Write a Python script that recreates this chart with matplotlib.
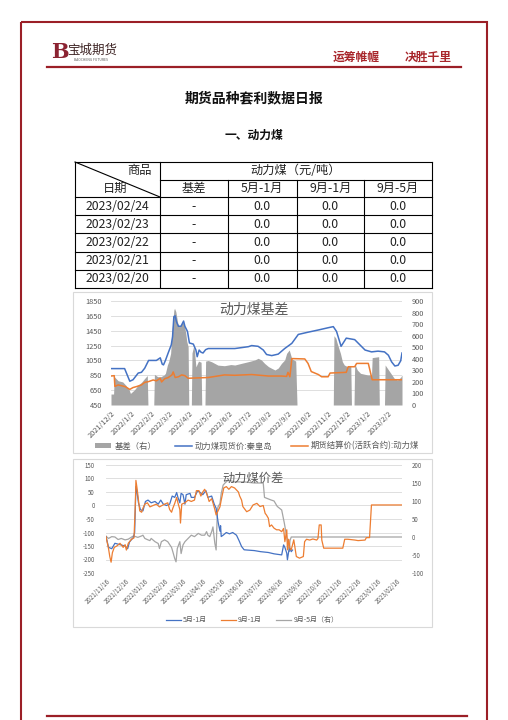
import matplotlib
matplotlib.use("Agg")
import matplotlib.pyplot as plt
from matplotlib.patches import Rectangle, Patch
from matplotlib.lines import Line2D
import pandas as pd

plt.rcParams['font.family'] = ['Noto Sans CJK SC', 'DejaVu Sans']
plt.rcParams['axes.unicode_minus'] = False

W, H = 508, 720

# ---------------- 表格数据 ----------------
tbl_dates = ['2023/02/24', '2023/02/23', '2023/02/22', '2023/02/21', '2023/02/20']
tbl_basis = ['-', '-', '-', '-', '-']
tbl_51 = [0.0, 0.0, 0.0, 0.0, 0.0]
tbl_91 = [0.0, 0.0, 0.0, 0.0, 0.0]
tbl_95 = [0.0, 0.0, 0.0, 0.0, 0.0]
tbl_cols = ['基差', '5月-1月', '9月-1月', '9月-5月']

# ---------------- 图1 动力煤基差 ----------------
spot_dates = ['2021-12-02', '2021-12-23', '2021-12-31', '2022-01-05', '2022-01-13', '2022-01-18',
              '2022-01-23', '2022-01-29', '2022-02-10', '2022-02-16', '2022-02-19', '2022-02-21',
              '2022-02-24', '2022-02-28', '2022-03-05', '2022-03-07', '2022-03-09', '2022-03-11',
              '2022-03-13', '2022-03-16', '2022-03-20', '2022-03-24', '2022-03-26', '2022-03-30',
              '2022-04-02', '2022-04-08', '2022-04-12', '2022-04-14', '2022-04-17', '2022-04-20',
              '2022-04-23', '2022-04-27', '2022-05-01', '2022-06-11', '2022-07-02', '2022-07-07',
              '2022-07-17', '2022-07-25', '2022-07-30', '2022-08-07', '2022-08-17', '2022-08-27',
              '2022-09-07', '2022-09-17', '2022-10-02', '2022-10-18', '2022-11-02', '2022-11-10',
              '2022-11-15', '2022-11-22', '2022-11-30', '2022-12-13', '2022-12-21', '2022-12-29',
              '2023-01-08', '2023-01-18', '2023-01-28', '2023-02-03', '2023-02-08', '2023-02-13',
              '2023-02-18', '2023-02-22', '2023-02-24']
spot = [940, 940, 770, 790, 880, 890,
        945, 1050, 1050, 1085, 1000, 990,
        1050, 1145, 1260, 1370, 1640, 1650,
        1570, 1510, 1510, 1580, 1510, 1440,
        1285, 1270, 1190, 1100, 1190, 1160,
        1150, 1195, 1210, 1210, 1235, 1250,
        1240, 1190, 1130, 1115, 1135, 1210,
        1280, 1400, 1430, 1460, 1490, 1505,
        1440, 1240, 1350, 1330, 1260, 1190,
        1165, 1175, 1165, 1120, 1030, 975,
        985, 1045, 1150]

fut_dates = ['2021-12-02', '2021-12-07', '2021-12-08', '2021-12-13', '2021-12-18', '2021-12-24',
             '2021-12-31', '2022-01-05', '2022-01-10', '2022-01-18', '2022-01-23', '2022-01-29',
             '2022-02-05', '2022-02-10', '2022-02-16', '2022-02-18', '2022-02-23', '2022-02-28',
             '2022-03-06', '2022-03-08', '2022-03-11', '2022-03-16', '2022-03-21', '2022-03-26',
             '2022-03-31', '2022-05-01', '2022-05-26', '2022-06-11', '2022-07-07', '2022-08-02',
             '2022-08-22', '2022-08-30', '2022-09-01', '2022-09-04', '2022-09-07', '2022-09-27',
             '2022-10-02', '2022-10-07', '2022-10-18', '2022-10-23', '2022-11-02', '2022-11-05',
             '2022-11-30', '2022-12-03', '2022-12-13', '2022-12-16', '2023-01-03', '2023-01-06',
             '2023-01-09', '2023-02-24']
fut = [840, 845, 700, 720, 710, 697,
       660, 685, 697, 720, 755, 765,
       787, 775, 810, 760, 805, 818,
       855, 895, 820, 830, 855, 845,
       810, 820, 855, 850, 860, 840,
       840, 835, 890, 830, 1075, 1070,
       1010, 900, 860, 830, 830, 880,
       890, 965, 965, 1010, 1010, 900,
       790, 790]

basis_dates = ['2021-12-02', '2021-12-06', '2021-12-07', '2021-12-13', '2021-12-20', '2021-12-25',
               '2021-12-30', '2022-01-01', '2022-01-07', '2022-01-13', '2022-01-18', '2022-01-23',
               '2022-01-27', '2022-01-28', '2022-02-06', '2022-02-07', '2022-02-12', '2022-02-17',
               '2022-02-22', '2022-02-24', '2022-02-27', '2022-03-01', '2022-03-04', '2022-03-06',
               '2022-03-09', '2022-03-10', '2022-03-12', '2022-03-15', '2022-03-17', '2022-03-19',
               '2022-03-22', '2022-03-25', '2022-03-27', '2022-03-29', '2022-03-31', '2022-04-01',
               '2022-04-05', '2022-04-06', '2022-04-09', '2022-04-12', '2022-04-16', '2022-04-20',
               '2022-04-21', '2022-04-26', '2022-04-27', '2022-05-01', '2022-05-06', '2022-05-16',
               '2022-05-26', '2022-06-05', '2022-06-11', '2022-06-21', '2022-07-02', '2022-07-12',
               '2022-07-17', '2022-07-22', '2022-07-27', '2022-08-02', '2022-08-07', '2022-08-12',
               '2022-08-17', '2022-08-22', '2022-08-27', '2022-08-30', '2022-09-03', '2022-09-07',
               '2022-09-13', '2022-09-15', '2022-11-10', '2022-11-11', '2022-11-14', '2022-11-16',
               '2022-11-21', '2022-11-24', '2022-11-27', '2022-12-02', '2022-12-07', '2022-12-08',
               '2022-12-12', '2022-12-13', '2022-12-17', '2022-12-22', '2023-01-02', '2023-01-08',
               '2023-01-09', '2023-01-19', '2023-01-20', '2023-01-28', '2023-01-29', '2023-02-05',
               '2023-02-12', '2023-02-17', '2023-02-22', '2023-02-24']
basis = [95, 95, 245, 210, 200, 170,
         130, 100, 130, 173, 196, 230,
         255, 0, 0, 265, 245, 245,
         260, 275, 346, 375, 447, 635,
         822, 837, 808, 707, 678, 680,
         721, 692, 635, 548, 505, 0,
         0, 450, 520, 330, 380, 370,
         0, 0, 380, 385, 375, 345,
         340, 350, 346, 360, 375, 390,
         404, 390, 360, 332, 317, 303,
         320, 360, 390, 447, 476, 400,
         380, 0, 0, 600, 577, 534,
         447, 375, 346, 332, 340, 0,
         0, 360, 303, 274, 260, 260,
         410, 418, 0, 0, 346, 288,
         231, 216, 240, 260]

c1_ticks = ['2021-12-02', '2022-01-02', '2022-02-02', '2022-03-02', '2022-04-02', '2022-05-02',
            '2022-06-02', '2022-07-02', '2022-08-02', '2022-09-02', '2022-10-02', '2022-11-02',
            '2022-12-02', '2023-01-02', '2023-02-02']
c1_ticklabels = ['2021/12/2', '2022/1/2', '2022/2/2', '2022/3/2', '2022/4/2', '2022/5/2',
                 '2022/6/2', '2022/7/2', '2022/8/2', '2022/9/2', '2022/10/2', '2022/11/2',
                 '2022/12/2', '2023/1/2', '2023/2/2']
c1_left = [450, 650, 850, 1050, 1250, 1450, 1650, 1850]
c1_right = [0, 100, 200, 300, 400, 500, 600, 700, 800, 900]

# ---------------- 图2 动力煤价差 ----------------
s51_dates = ['2021-11-16', '2021-11-20', '2021-11-25', '2021-11-30', '2021-12-08', '2021-12-16',
             '2021-12-20', '2021-12-23', '2021-12-29', '2021-12-31', '2022-01-02', '2022-01-04',
             '2022-01-06', '2022-01-09', '2022-01-13', '2022-01-17', '2022-01-21', '2022-01-26',
             '2022-02-01', '2022-02-06', '2022-02-10', '2022-02-14', '2022-02-19', '2022-02-24',
             '2022-02-28', '2022-03-04', '2022-03-07', '2022-03-09', '2022-03-12', '2022-03-14',
             '2022-03-17', '2022-03-20', '2022-03-22', '2022-03-28', '2022-03-30', '2022-04-04',
             '2022-04-09', '2022-04-12', '2022-04-17', '2022-04-22', '2022-04-25', '2022-05-01',
             '2022-05-05', '2022-05-08', '2022-05-11', '2022-05-14', '2022-05-15', '2022-05-16',
             '2022-05-19', '2022-05-24', '2022-05-29', '2022-06-03', '2022-06-09', '2022-06-13',
             '2022-06-17', '2022-06-21', '2022-06-26', '2022-07-07', '2022-07-17', '2022-07-29',
             '2022-08-07', '2022-08-19', '2022-08-22', '2022-08-24', '2022-08-27', '2022-08-28',
             '2022-08-30', '2022-09-01', '2022-09-03', '2022-09-05']
s51 = [-115, -155, -160, -140, -145, -150,
       -160, -135, -118, -100, 70, 45,
       10, -15, -20, 15, 20, 10,
       15, 5, 20, 5, 0, 5,
       35, 30, 48, 30, 10, 45,
       40, 5, 40, 45, 30, 30,
       55, 50, 40, 55, 30, 35,
       5, -10, -60, -95, -75, -115,
       -110, -100, -105, -100, -110, -130,
       -152, -164, -165, -167, -171, -174,
       -179, -183, -146, -155, -177, -201,
       -170, -158, -171, -165]

s91_dates = ['2021-11-16', '2021-11-20', '2021-11-22', '2021-11-24', '2021-11-26', '2021-11-29',
             '2021-12-03', '2021-12-08', '2021-12-13', '2021-12-16', '2021-12-18', '2021-12-21',
             '2021-12-26', '2021-12-30', '2022-01-01', '2022-01-02', '2022-01-04', '2022-01-06',
             '2022-01-08', '2022-01-11', '2022-01-13', '2022-01-16', '2022-01-20', '2022-01-24',
             '2022-01-29', '2022-02-03', '2022-02-08', '2022-02-12', '2022-02-16', '2022-02-21',
             '2022-02-24', '2022-02-27', '2022-03-01', '2022-03-04', '2022-03-07', '2022-03-09',
             '2022-03-12', '2022-03-13', '2022-03-15', '2022-03-20', '2022-03-25', '2022-03-30',
             '2022-04-04', '2022-04-07', '2022-04-11', '2022-04-14', '2022-04-17', '2022-04-20',
             '2022-04-24', '2022-04-27', '2022-05-01', '2022-05-03', '2022-05-06', '2022-05-08',
             '2022-05-11', '2022-05-14', '2022-05-16', '2022-05-20', '2022-05-24', '2022-05-28',
             '2022-06-01', '2022-06-06', '2022-06-12', '2022-06-14', '2022-06-17', '2022-06-19',
             '2022-06-25', '2022-06-30', '2022-07-05', '2022-07-11', '2022-07-16', '2022-07-21',
             '2022-07-24', '2022-07-26', '2022-07-29', '2022-07-31', '2022-08-03', '2022-08-07',
             '2022-08-11', '2022-08-15', '2022-08-19', '2022-08-22', '2022-08-24', '2022-08-27',
             '2022-08-28', '2022-08-30', '2022-09-01', '2022-09-03', '2022-09-07', '2022-09-11',
             '2022-09-16', '2022-09-22', '2022-09-24', '2022-09-27', '2022-10-02', '2022-10-07',
             '2022-10-13', '2022-10-15', '2022-10-17', '2022-10-20', '2022-10-21', '2022-10-24',
             '2022-11-05', '2022-11-23', '2022-11-26', '2022-12-01', '2022-12-12', '2022-12-17',
             '2022-12-28', '2022-12-30', '2023-01-04', '2023-01-07', '2023-02-24']
s91 = [-115, -160, -190, -210, -175, -155,
       -150, -140, -155, -145, -165, -140,
       -125, -120, 0, 93, 60, 20,
       -20, -25, -10, 5, 10, -5,
       0, 5, -5, 0, 5, 10,
       -15, -25, -10, 8, 30, 10,
       -15, -65, 5, 10, 20, 15,
       20, 55, 55, 35, 50, 60,
       40, 15, 25, 10, -15, -35,
       -20, -5, 20, 65, 70, 60,
       70, 65, 50, 35, 20, -4,
       -23, -17, 2, 8, -4, 0,
       -29, -35, -47, -78, -72, -84,
       -90, -90, -97, -85, -134, -90,
       -164, -125, -160, -164, -127, -189,
       -195, -189, -134, -125, -128, -124,
       -128, -122, -72, -72, -128, -158,
       -158, -158, -125, -125, -128, -130,
       -128, -119, -119, 2, 2]

s95_dates = ['2021-11-16', '2021-11-20', '2021-11-25', '2021-11-30', '2021-12-05', '2021-12-10',
             '2021-12-16', '2021-12-21', '2021-12-29', '2022-01-05', '2022-01-11', '2022-01-13',
             '2022-01-16', '2022-01-21', '2022-01-24', '2022-01-26', '2022-02-01', '2022-02-06',
             '2022-02-08', '2022-02-11', '2022-02-16', '2022-02-21', '2022-02-27', '2022-03-01',
             '2022-03-04', '2022-03-06', '2022-03-08', '2022-03-12', '2022-03-14', '2022-03-17',
             '2022-03-20', '2022-03-25', '2022-03-30', '2022-04-04', '2022-04-10', '2022-04-15',
             '2022-04-20', '2022-04-23', '2022-04-25', '2022-04-28', '2022-05-01', '2022-05-03',
             '2022-05-06', '2022-05-08', '2022-05-10', '2022-05-11', '2022-05-14', '2022-05-16',
             '2022-05-19', '2022-05-22', '2022-05-27', '2022-06-06', '2022-06-21', '2022-07-07',
             '2022-07-21', '2022-07-23', '2022-08-02', '2022-08-07', '2022-08-12', '2022-08-19',
             '2022-08-23', '2022-08-27', '2022-08-30', '2022-08-31', '2022-09-01', '2022-09-03',
             '2023-02-24']
s95 = [2, -4, 1, 0, -7, -4,
       -8, -6, 3, -1, 3, 5,
       -4, -8, -10, -4, -13, -18,
       -32, -13, -8, -13, -29, -41,
       -60, -69, -32, -13, -46, -22,
       -13, -4, 5, 1, 10, 5,
       5, 15, 5, 1, 15, 28,
       -18, -36, 75, 84, 93, 121,
       144, 150, 158, 153, 153, 150,
       150, 110, 103, 100, 85, 75,
       40, 0, -30, -40, -10, 0,
       0]

c2_ticks = ['2021-11-16', '2021-12-16', '2022-01-16', '2022-02-16', '2022-03-16', '2022-04-16',
            '2022-05-16', '2022-06-16', '2022-07-16', '2022-08-16', '2022-09-16', '2022-10-16',
            '2022-11-16', '2022-12-16', '2023-01-16', '2023-02-16']
c2_ticklabels = [d.replace('-', '/') for d in c2_ticks]
c2_left = [-250, -200, -150, -100, -50, 0, 50, 100, 150]
c2_right = [-100, -50, 0, 50, 100, 150, 200]

BLUE, ORANGE, GRAY = '#4472C4', '#ED7D31', '#A5A5A5'
RED = '#9B1F27'
TXT = '#595959'


def box(l, t, r, b):
    # 像素坐标 -> 图坐标
    return [l / W, 1 - b / H, (r - l) / W, (b - t) / H]


def ftext(x, y, s, size, **kw):
    kw.setdefault('ha', 'center')
    kw.setdefault('va', 'center')
    fig.text(x / W, 1 - y / H, s, fontsize=size, **kw)


fig = plt.figure(figsize=(W / 100, H / 100), dpi=100)
page = fig.add_axes([0, 0, 1, 1])
page.set_xlim(0, W)
page.set_ylim(H, 0)
page.axis('off')

# 页面边框、页眉、页脚
page.add_patch(Rectangle((21, 22), 466, 710, fill=False, edgecolor=RED, lw=1.5))
page.plot([47, 461], [67, 67], color=RED, lw=1.6)
page.plot([47, 467], [716, 716], color=RED, lw=1.6)
ftext(60, 52, 'B', 15, color='#8B2332', fontweight='bold', family=['DejaVu Serif'])
ftext(92, 50, '宝城期货', 9, color='#3d2424')
ftext(91, 60, 'BAOCHENG FUTURES', 2.4, color='#555555')
ftext(356, 57, '运筹帷幄', 8.5, color='#A8262B', fontweight='bold')
ftext(428, 57, '决胜千里', 8.5, color='#A8262B', fontweight='bold')

ftext(254, 98, '期货品种套利数据日报', 10, color='#111111', fontweight='bold')
ftext(254, 135, '一、动力煤', 8.5, color='#111111', fontweight='bold')

# ---------------- 表格 ----------------
rows_y = [162, 179.5, 197, 215.2, 233.4, 251.6, 269.8, 288]
cols_x = [75, 160, 228, 296.5, 364, 432]
lw_t = 0.8
for i, y in enumerate(rows_y):
    x0 = cols_x[1] if i == 1 else cols_x[0]
    page.plot([x0, cols_x[-1]], [y, y], color='black', lw=lw_t)
for j, x in enumerate(cols_x):
    y0 = rows_y[1] if j in (2, 3, 4) else rows_y[0]
    page.plot([x, x], [y0, rows_y[-1]], color='black', lw=lw_t)
page.plot([cols_x[0], cols_x[1]], [rows_y[0], rows_y[2]], color='black', lw=lw_t)

tsize = 8.8
ftext(139, 170.5, '商品', tsize, color='#222222')
ftext(115, 188.5, '日期', tsize, color='#222222')
ftext((cols_x[1] + cols_x[-1]) / 2, 170.5, '动力煤（元/吨）', tsize, color='#222222')
for j, name in enumerate(tbl_cols):
    ftext((cols_x[j + 1] + cols_x[j + 2]) / 2, 188.5, name, tsize, color='#222222')
for i in range(len(tbl_dates)):
    yc = (rows_y[i + 2] + rows_y[i + 3]) / 2
    vals = [tbl_dates[i], tbl_basis[i], f'{tbl_51[i]:.1f}', f'{tbl_91[i]:.1f}', f'{tbl_95[i]:.1f}']
    for j, v in enumerate(vals):
        ftext((cols_x[j] + cols_x[j + 1]) / 2, yc, v, tsize, color='#222222')

# 图表外框
page.add_patch(Rectangle((73, 292), 359, 161, facecolor='white', edgecolor='#D9D9D9', lw=0.8))
page.add_patch(Rectangle((73, 459), 359, 168, facecolor='white', edgecolor='#D9D9D9', lw=0.8))


def style_axes(ax, left_ticks, right_ax, right_ticks, ticks, ticklabels, size, lpad, rpad):
    ax.set_yticks(left_ticks)
    ax.set_yticklabels([str(v) for v in left_ticks])
    ax.yaxis.grid(True, color='#D9D9D9', lw=0.6)
    ax.set_axisbelow(True)
    ax.set_xticks(pd.to_datetime(ticks))
    ax.set_xticklabels(ticklabels, rotation=45, ha='right', rotation_mode='anchor')
    ax.tick_params(axis='y', length=0, labelsize=size, labelcolor=TXT, pad=lpad)
    ax.tick_params(axis='x', length=0, labelsize=size, labelcolor=TXT, pad=3)
    right_ax.set_yticks(right_ticks)
    right_ax.set_yticklabels([str(v) for v in right_ticks])
    right_ax.tick_params(axis='y', length=0, labelsize=size, labelcolor=TXT, pad=rpad)
    for a in (ax, right_ax):
        for s in a.spines.values():
            s.set_visible(False)
        a.patch.set_visible(False)


# ---------------- 图1 ----------------
ax1 = fig.add_axes(box(111, 301, 402, 405))
ax1r = ax1.twinx()
ax1l = ax1.twinx()
ax1.set_ylim(450, 1850)
ax1r.set_ylim(0, 900)
ax1l.set_ylim(450, 1850)
ax1.set_xlim(pd.Timestamp('2021-12-02'), pd.Timestamp('2023-02-24'))
ax1r.fill_between(pd.to_datetime(basis_dates), basis, 0, color=GRAY, lw=0)
ax1l.plot(pd.to_datetime(spot_dates), spot, color=BLUE, lw=1.1)
ax1l.plot(pd.to_datetime(fut_dates), fut, color=ORANGE, lw=1.1)
ax1l.set_axis_off()
style_axes(ax1, c1_left, ax1r, c1_right, c1_ticks, c1_ticklabels, 5.3, 6.5, 7)
ftext(254, 310, '动力煤基差', 10, color=TXT)
h1 = [Patch(facecolor=GRAY), Line2D([], [], color=BLUE, lw=1.1), Line2D([], [], color=ORANGE, lw=1.1)]
fig.legend(h1, ['基差（右）', '动力煤现货价:秦皇岛', '期货结算价(活跃合约):动力煤'],
           loc='center', bbox_to_anchor=(257 / W, 1 - 446 / H), ncol=3, frameon=False,
           fontsize=6.0, handlelength=2.0, handleheight=0.6, handletextpad=0.4,
           columnspacing=2.2, labelcolor=TXT)

# ---------------- 图2 ----------------
ax2 = fig.add_axes(box(106, 465, 402, 573))
ax2r = ax2.twinx()
ax2l = ax2.twinx()
ax2.set_ylim(-250, 150)
ax2r.set_ylim(-100, 200)
ax2l.set_ylim(-250, 150)
ax2.set_xlim(pd.Timestamp('2021-11-16'), pd.Timestamp('2023-02-24'))
ax2r.plot(pd.to_datetime(s95_dates), s95, color=GRAY, lw=0.9)
ax2l.plot(pd.to_datetime(s51_dates), s51, color=BLUE, lw=0.9)
ax2l.plot(pd.to_datetime(s91_dates), s91, color=ORANGE, lw=0.9)
ax2l.set_axis_off()
style_axes(ax2, c2_left, ax2r, c2_right, c2_ticks, c2_ticklabels, 4.4, 8, 7)
ftext(253, 478, '动力煤价差', 8.8, color=TXT)
h2 = [Line2D([], [], color=BLUE, lw=0.9), Line2D([], [], color=ORANGE, lw=0.9),
      Line2D([], [], color=GRAY, lw=0.9)]
fig.legend(h2, ['5月-1月', '9月-1月', '9月-5月（右）'],
           loc='center', bbox_to_anchor=(252 / W, 1 - 620 / H), ncol=3, frameon=False,
           fontsize=5.0, handlelength=2.2, handletextpad=0.3, columnspacing=2.0,
           labelcolor=TXT)

fig.savefig('out.png', dpi=100)
